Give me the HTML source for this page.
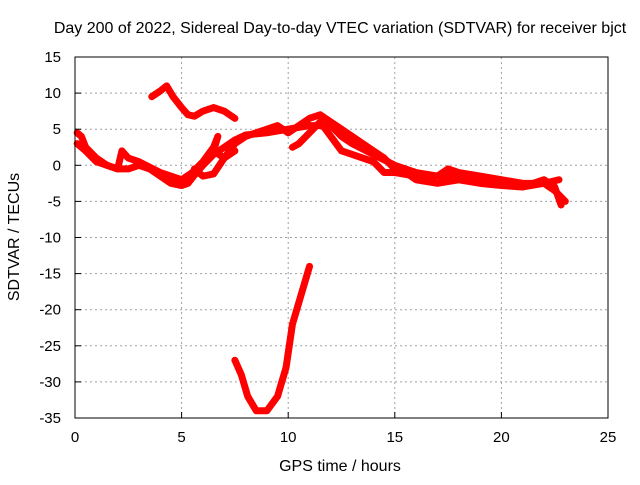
<!DOCTYPE html>
<html><head><meta charset="utf-8"><style>
body{margin:0;background:#fff}
svg{font-family:"Liberation Sans",sans-serif;font-size:15px}
</style></head><body>
<svg width="640" height="480" xmlns="http://www.w3.org/2000/svg">
<rect width="640" height="480" fill="#fff"/>
<g id="grid"></g>
<g id="series"></g>
<rect x="75" y="57" width="533" height="361" fill="none" stroke="#000"/>
<g id="ticks"></g>
<text x="340" y="33" text-anchor="middle" font-size="16">Day 200 of 2022, Sidereal Day-to-day VTEC variation (SDTVAR) for receiver bjct</text>
<text x="340" y="471" text-anchor="middle" font-size="16">GPS time / hours</text>
<text transform="translate(19,237) rotate(-90)" text-anchor="middle" font-size="16">SDTVAR / TECUs</text>
</svg>
<script>
const xTicks=[0,5,10,15,20,25];
const yTicks=[15,10,5,0,-5,-10,-15,-20,-25,-30,-35];
const traceA=[[3.6,9.5],[4.0,10.3],[4.3,11],[4.6,9.5],[5.0,8],[5.3,7],[5.6,6.8],[6.0,7.5],[6.5,8],[7.0,7.5],[7.5,6.5]];
const traceB=[[0.1,4.5],[0.3,4],[0.5,2.5],[1.0,1],[1.5,0],[2.0,-0.5],[2.5,-0.5],[3.0,0],[3.5,-0.5],[4.0,-1.5],[4.5,-2.5],[5.0,-2.8],[5.3,-2.5],[5.7,-1],[6.0,0],[6.5,1.5],[7.0,2.5],[7.5,3.5],[8,4.2],[9,4.5],[10,5],[11,5.5],[12,5.5],[12.5,4],[13,3],[14,1.5],[15,0],[16,-1],[17,-1.5],[18,-1.5],[19,-2],[20,-2.5],[21,-3],[22,-2.5],[22.5,-3.5],[23,-5]];
const traceC=[[0.1,3],[0.5,2],[1,0.5],[2,-0.5],[2.2,2],[2.5,1],[3,0.5],[4,-1],[5,-2],[5.5,-1],[6,0.5],[6.5,2.5],[6.7,4],[6.5,2],[7,1],[7.5,3],[8,4],[9,5],[9.5,5.5],[10,4.5],[10.5,5.5],[11,6.5],[11.5,7],[12,6],[12.5,5],[13,4],[13.5,3],[14,2],[14.5,1],[15,-0.5],[15.5,-1],[16,-2],[17,-2.5],[18,-2],[19,-2.5],[20,-2.8],[21,-3],[22,-2],[22.5,-3],[22.8,-5.5]];
const traceD=[[10.2,2.5],[10.5,3],[11,4.5],[11.5,6],[12,4],[12.5,2],[13,1.5],[14,0.5],[14.5,-1],[15,-1],[16,-1.5],[17,-1.5],[17.5,-0.5],[18,-1],[19,-1.5],[20,-2],[21,-2.5],[22,-2.5],[22.7,-2]];
const traceE=[[7.5,-27],[7.8,-29],[8.1,-32],[8.5,-34],[9,-34],[9.5,-32],[9.9,-28],[10.2,-22],[10.6,-18],[11,-14]];
const traceF=[[5.6,-0.5],[6.0,-1.5],[6.5,-1.2],[7.0,1],[7.5,2]];
const traces=[traceA,traceB,traceC,traceD,traceE,traceF];
const X0=75,X1=608,Y0=418,Y1=57,xmin=0,xmax=25,ymin=-35,ymax=15;
const sx=v=>X0+(v-xmin)/(xmax-xmin)*(X1-X0);
const sy=v=>Y0-(v-ymin)/(ymax-ymin)*(Y0-Y1);
const NS="http://www.w3.org/2000/svg";
const grid=document.getElementById('grid'),ticks=document.getElementById('ticks'),series=document.getElementById('series');
function mk(t,a){const e=document.createElementNS(NS,t);for(const k in a)e.setAttribute(k,a[k]);return e;}
xTicks.forEach(v=>{const x=sx(v);
 if(v>xmin&&v<xmax){const g=mk('line',{x1:x,x2:x,y1:Y1,y2:Y0,stroke:'#a0a0a0','stroke-dasharray':'2,3'});
 
 grid.appendChild(g);}
 const t=mk('line',{x1:x,x2:x,y1:Y0,y2:Y0-6,stroke:'#000'});
 
 ticks.appendChild(t);
 const l=mk('text',{x:x,y:Y0+24,'text-anchor':'middle'});l.textContent=v;
 
 ticks.appendChild(l);});
yTicks.forEach(v=>{const y=sy(v);
 if(v>ymin&&v<ymax){const g=mk('line',{x1:X0,x2:X1,y1:y,y2:y,stroke:'#a0a0a0','stroke-dasharray':'2,3'});
 
 grid.appendChild(g);}
 const t=mk('line',{x1:X0,x2:X0+6,y1:y,y2:y,stroke:'#000'});
 
 ticks.appendChild(t);
 const l=mk('text',{x:X0-14,y:y+5,'text-anchor':'end'});l.textContent=v;
 
 ticks.appendChild(l);});
traces.forEach(tr=>{const p=mk('polyline',{points:tr.map(d=>sx(d[0])+','+sy(d[1])).join(' '),fill:'none',stroke:'#ff0000','stroke-width':7,'stroke-linejoin':'round','stroke-linecap':'round'});
 
 series.appendChild(p);});
</script>
</body></html>
